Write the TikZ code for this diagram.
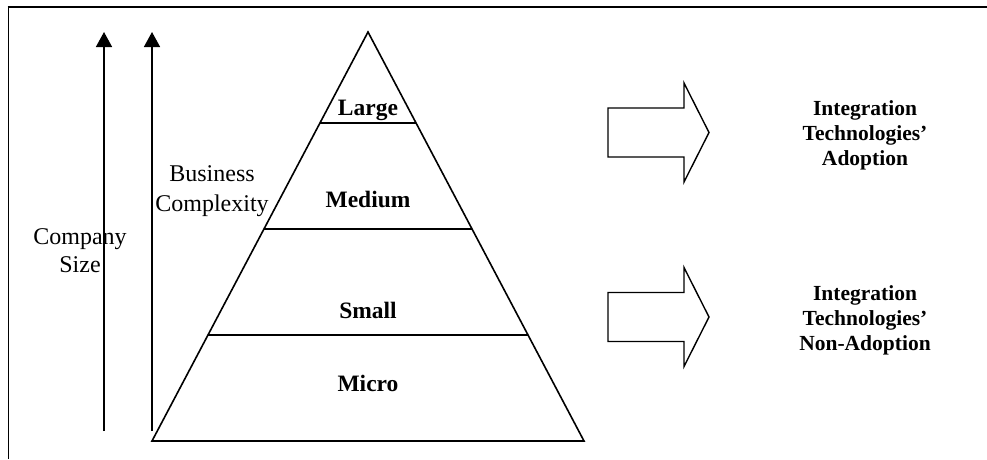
\documentclass[tikz,border=0pt]{standalone}
\usepackage{fontspec}
\setmainfont{Liberation Serif}
\usetikzlibrary{positioning, calc, arrows.meta}

\begin{document}
\begin{tikzpicture}[
        x=1pt, y=-1pt,
        level/.style={line width=1.6pt},
        growth/.style={-{Triangle[length=15pt, width=16pt]}, line width=1.6pt},
        push/.style={line width=1.4pt, line join=miter},
        tier/.style={font=\fontsize{23.5}{26}\selectfont\bfseries, anchor=base},
        outcome/.style={font=\fontsize{21.5}{25}\selectfont\bfseries, align=center},
        axislabel/.style={font=\fontsize{24}{28}\selectfont, align=center, inner sep=0pt}
    ]
        \useasboundingbox (0,0) rectangle (987,459);

        % Frame
        \draw[line width=2.6pt] (7.5,7) -- (987,7);
        \draw[line width=1.8pt] (8.5,6) -- (8.5,459);

        % Pyramid
        \coordinate (apex) at (368,32);
        \coordinate (baseL) at (152,441);
        \coordinate (baseR) at (584,441);
        \draw[level, line join=miter] (apex) -- (baseL) -- (baseR) -- cycle;
        \foreach \f in {0.2225, 0.4817, 0.7408}
            \draw[level] ($(apex)!\f!(baseL)$) -- ($(apex)!\f!(baseR)$);

        \node[tier] (large) at (368,115) {Large};
        \node[tier] (medium) at (368,207) {Medium};
        \node[tier] (small) at (368,318) {Small};
        \node[tier] (micro) at (368,391) {Micro};

        % Growth axes
        \coordinate (sizeFoot) at (104,431);
        \coordinate (sizeTip) at (104,32);
        \coordinate (complexFoot) at (152,431);
        \coordinate (complexTip) at (152,32);
        \draw[growth] (sizeFoot) -- (sizeTip);
        \draw[growth] (complexFoot) -- (complexTip);

        \node[axislabel] (sizeLabel) at (80,251) {Company\\Size};
        \node[axislabel, font=\fontsize{24}{30}\selectfont] (complexLabel) at (212,191) {Business\\Complexity};

        % Outcomes
        \foreach \y in {132.5, 317}
            \draw[push] (608,\y-24.5) -- (684,\y-24.5) -- (684,\y-49.5) -- (709,\y)
                -- (684,\y+49.5) -- (684,\y+24.5) -- (608,\y+24.5) -- cycle;

        \node[outcome] (adopt) at (865,135) {Integration\\Technologies'\\Adoption};
        \node[outcome] (nonAdopt) at (865,320) {Integration\\Technologies'\\Non-Adoption};
    \end{tikzpicture}
\end{document}
